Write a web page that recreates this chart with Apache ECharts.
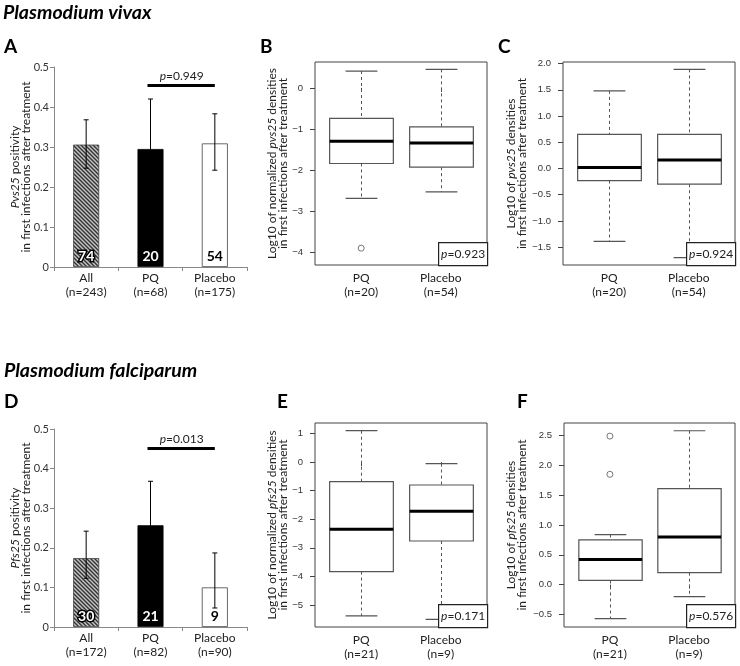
<!DOCTYPE html>
<html><head><meta charset="utf-8">
<script src="https://cdn.jsdelivr.net/npm/echarts@6/dist/echarts.min.js"></script>
<style>html,body{margin:0;padding:0;background:#fff}#c{width:740px;height:666px}</style>
</head><body><div id="c"></div>
<script>
// ---------------- data ----------------
const vivaxBarCategories = ['All\n(n=243)', 'PQ\n(n=68)', 'Placebo\n(n=175)'];
const vivaxPositivity = [0.306, 0.295, 0.309];
const vivaxErrLow = [0.247, 0.170, 0.242];
const vivaxErrHigh = [0.368, 0.420, 0.383];
const vivaxCounts = ['74', '20', '54'];
const vivaxBarP = '0.949';
const vivaxBarPLevel = 0.454;

const falcBarCategories = ['All\n(n=172)', 'PQ\n(n=82)', 'Placebo\n(n=90)'];
const falcPositivity = [0.174, 0.257, 0.100];
const falcErrLow = [0.123, 0.150, 0.048];
const falcErrHigh = [0.242, 0.368, 0.187];
const falcCounts = ['30', '21', '9'];
const falcBarP = '0.013';
const falcBarPLevel = 0.451;

const boxGroups = ['PQ', 'Placebo'];
const vivaxBoxN = ['(n=20)', '(n=54)'];
const falcBoxN = ['(n=21)', '(n=9)'];
// each box: [lower whisker, Q1, median, Q3, upper whisker]
const boxB = [[-2.69, -1.84, -1.30, -0.74, 0.41], [-2.53, -1.93, -1.34, -0.95, 0.45]];
const outliersB = [[1, -3.90]];
const pB = '0.923';
const boxC = [[-1.39, -0.23, 0.02, 0.65, 1.48], [-1.70, -0.30, 0.16, 0.65, 1.89]];
const outliersC = [];
const pC = '0.924';
const boxE = [[-5.38, -3.83, -2.35, -0.68, 1.10], [-5.50, -2.76, -1.72, -0.80, -0.05]];
const outliersE = [];
const pE = '0.171';
const boxF = [[-0.57, 0.07, 0.42, 0.75, 0.84], [-0.20, 0.20, 0.80, 1.61, 2.58]];
const outliersF = [[1, 1.85], [1, 2.49]];
const pF = '0.576';

const ticksB = [-4, -3, -2, -1, 0];
const ticksC = [-1.5, -1.0, -0.5, 0.0, 0.5, 1.0, 1.5, 2.0];
const ticksE = [-5, -4, -3, -2, -1, 0, 1];
const ticksF = [-0.5, 0.0, 0.5, 1.0, 1.5, 2.0, 2.5];
const rangeB = [-4.31, 0.63];
const rangeC = [-1.84, 2.03];
const rangeE = [-5.77, 1.37];
const rangeF = [-0.71, 2.71];

// ---------------- layout ----------------
const SANS = 'Lato, "Open Sans", sans-serif';
const RFONT = '"Liberation Sans", Arial, sans-serif';
const grids = [
  {left: 54, top: 67, width: 193, height: 200},   // A
  {left: 315, top: 62, width: 172, height: 203},  // B
  {left: 563, top: 62, width: 172, height: 203},  // C
  {left: 54, top: 429, width: 193, height: 198},  // D
  {left: 315, top: 423, width: 172, height: 204}, // E
  {left: 564, top: 423, width: 171, height: 204}  // F
];

function hatchPattern() {
  const c = document.createElement('canvas');
  c.width = 4; c.height = 4;
  const x = c.getContext('2d');
  x.fillStyle = '#c4c4c4'; x.fillRect(0, 0, 4, 4);
  x.strokeStyle = '#333'; x.lineWidth = 1.4;
  x.beginPath();
  x.moveTo(0, 0); x.lineTo(4, 4);
  x.moveTo(-2, 2); x.lineTo(2, 6);
  x.moveTo(2, -2); x.lineTo(6, 2);
  x.stroke();
  return c;
}
const hatch = {image: hatchPattern(), repeat: 'repeat'};

const NAMESIZE = 12;
const richItalic = (size) => ({i: {fontStyle: 'italic', fontFamily: SANS, fontSize: size, color: '#222', lineHeight: 11.5}});

function barXAxis(gi, cats) {
  return {
    type: 'category', gridIndex: gi, data: cats,
    axisLine: {show: true, lineStyle: {color: '#888', width: 1}},
    axisTick: {show: true, length: 4, lineStyle: {color: '#888'}},
    axisLabel: {margin: 4, fontFamily: SANS, fontSize: 12, lineHeight: 14, color: '#222'},
    splitLine: {show: false}
  };
}
function barYAxis(gi, name) {
  return {
    type: 'value', gridIndex: gi, min: 0, max: 0.5, interval: 0.1,
    axisLine: {show: true, lineStyle: {color: '#888', width: 1}},
    axisTick: {show: true, length: 4, lineStyle: {color: '#888'}},
    axisLabel: {margin: 5, fontFamily: SANS, fontSize: 11, color: '#333'},
    splitLine: {show: false},
    name: name, nameLocation: 'middle', nameRotate: 90, nameGap: 22, nameMoveOverlap: false,
    nameTextStyle: {fontFamily: SANS, fontSize: NAMESIZE, lineHeight: 11.5, color: '#222', rich: richItalic(NAMESIZE)}
  };
}
function boxXAxis(gi, nLabels) {
  return {
    type: 'value', gridIndex: gi, min: 0.42, max: 2.58,
    axisLine: {show: false},
    axisTick: {show: true, length: 4, customValues: [1, 2], lineStyle: {color: '#444'}},
    axisLabel: {customValues: [1, 2], margin: 6, fontFamily: SANS, fontSize: 12, lineHeight: 14, color: '#222',
      formatter: v => boxGroups[Math.round(v) - 1] + '\n' + nLabels[Math.round(v) - 1]},
    splitLine: {show: false}
  };
}
function boxYAxis(gi, range, ticks, name, gap, decimals) {
  return {
    type: 'value', gridIndex: gi, min: range[0], max: range[1],
    axisLine: {show: false},
    axisTick: {show: true, length: 5, customValues: ticks, lineStyle: {color: '#444'}},
    axisLabel: {customValues: ticks, margin: 12, fontFamily: RFONT, fontSize: 9.5, color: '#333',
      formatter: v => { const s = v.toFixed(decimals); return s.replace('-', '\u2212'); }},
    splitLine: {show: false},
    name: name, nameLocation: 'middle', nameRotate: 90, nameGap: gap, nameMoveOverlap: false,
    nameTextStyle: {fontFamily: SANS, fontSize: NAMESIZE, lineHeight: 11.5, color: '#222', rich: richItalic(NAMESIZE)}
  };
}

function barSeries(gi, vals, counts) {
  const styles = [
    {item: {color: hatch, borderColor: '#444', borderWidth: 0.8}, label: {color: '#fff', textBorderColor: '#000', textBorderWidth: 3}},
    {item: {color: '#000', borderColor: '#000', borderWidth: 0.8}, label: {color: '#fff'}},
    {item: {color: '#fff', borderColor: '#444', borderWidth: 0.8}, label: {color: '#000'}}
  ];
  return {
    type: 'bar', xAxisIndex: gi, yAxisIndex: gi, barWidth: 26, z: 2,
    data: vals.map((v, i) => ({
      value: v, itemStyle: styles[i].item,
      label: Object.assign({show: true, position: 'insideBottom', distance: 4, formatter: counts[i],
        fontFamily: SANS, fontWeight: 'bold', fontSize: 14}, styles[i].label)
    }))
  };
}
function errSeries(gi, lo, hi) {
  return {
    type: 'custom', xAxisIndex: gi, yAxisIndex: gi, z: 4,
    encode: {x: 0, y: [1, 2]},
    data: lo.map((l, i) => [i, l, hi[i]]),
    renderItem: (params, api) => {
      const i = api.value(0);
      const a = api.coord([i, api.value(1)]);
      const b = api.coord([i, api.value(2)]);
      const w = 2.5, st = {stroke: '#000', lineWidth: 1};
      return {type: 'group', children: [
        {type: 'line', shape: {x1: a[0], y1: a[1], x2: b[0], y2: b[1]}, style: st},
        {type: 'line', shape: {x1: b[0] - w, y1: b[1], x2: b[0] + w, y2: b[1]}, style: st},
        {type: 'line', shape: {x1: a[0] - w, y1: a[1], x2: a[0] + w, y2: a[1]}, style: st}
      ]};
    }
  };
}
function pLineSeries(gi, level, pText) {
  return {
    type: 'custom', xAxisIndex: gi, yAxisIndex: gi, z: 4,
    encode: {x: [0, 1], y: 2},
    data: [[1, 2, level]],
    renderItem: (params, api) => {
      const a = api.coord([api.value(0), api.value(2)]);
      const b = api.coord([api.value(1), api.value(2)]);
      return {type: 'group', children: [
        {type: 'line', shape: {x1: a[0] - 3, y1: a[1], x2: b[0], y2: b[1]}, style: {stroke: '#000', lineWidth: 3}},
        {type: 'text', x: (a[0] + b[0]) / 2 - 1, y: a[1] - 3,
          style: {text: '{i|p}=' + pText, fontFamily: SANS, fontSize: 12, fill: '#222', align: 'center', verticalAlign: 'bottom',
            rich: {i: {fontStyle: 'italic', fontFamily: SANS, fontSize: 12, fill: '#222'}}}}
      ]};
    }
  };
}
function boxSeries(gi, boxes) {
  return {
    type: 'custom', xAxisIndex: gi, yAxisIndex: gi, z: 3,
    encode: {x: 0, y: [1, 2, 3, 4, 5]},
    data: boxes.map((b, i) => [i + 1].concat(b)),
    renderItem: (params, api) => {
      const x = api.value(0);
      const lo = api.coord([x, api.value(1)]);
      const q1 = api.coord([x, api.value(2)]);
      const md = api.coord([x, api.value(3)]);
      const q3 = api.coord([x, api.value(4)]);
      const hi = api.coord([x, api.value(5)]);
      const bw = api.size([0.8, 0])[0];
      const cw = api.size([0.4, 0])[0];
      const cx = Math.round(lo[0]) + 0.5;
      const dash = {stroke: '#555', lineWidth: 1, lineDash: [3, 3]};
      const solid = {stroke: '#555', lineWidth: 1.2};
      return {type: 'group', children: [
        {type: 'line', shape: {x1: cx, y1: hi[1], x2: cx, y2: q3[1]}, style: dash},
        {type: 'line', shape: {x1: cx, y1: q1[1], x2: cx, y2: lo[1]}, style: dash},
        {type: 'line', shape: {x1: cx - cw / 2, y1: hi[1], x2: cx + cw / 2, y2: hi[1]}, style: solid},
        {type: 'line', shape: {x1: cx - cw / 2, y1: lo[1], x2: cx + cw / 2, y2: lo[1]}, style: solid},
        {type: 'rect', shape: {x: cx - bw / 2, y: q3[1], width: bw, height: q1[1] - q3[1]}, style: {fill: '#fff', stroke: '#555', lineWidth: 1.2}},
        {type: 'line', shape: {x1: cx - bw / 2, y1: md[1], x2: cx + bw / 2, y2: md[1]}, style: {stroke: '#000', lineWidth: 3}}
      ]};
    }
  };
}
function outlierSeries(gi, pts) {
  return {
    type: 'scatter', xAxisIndex: gi, yAxisIndex: gi, z: 4, symbol: 'circle', symbolSize: 6,
    itemStyle: {color: '#fff', borderColor: '#555', borderWidth: 1},
    data: pts
  };
}
function pBox(gi, pText) {
  const g = grids[gi];
  const w = 49, h = 23;
  return {
    type: 'group', z: 100, left: g.left + g.width - w, top: g.top + g.height - h,
    children: [
      {type: 'rect', shape: {x: 0, y: 0, width: w, height: h}, style: {fill: '#fff', stroke: '#222', lineWidth: 1.2}, z: 100},
      {type: 'text', x: w / 2, y: h / 2, z: 101,
        style: {text: '{i|p}=' + pText, fontFamily: SANS, fontSize: 12, fill: '#222', align: 'center', verticalAlign: 'middle',
          rich: {i: {fontStyle: 'italic', fontFamily: SANS, fontSize: 12, fill: '#222'}}}}
    ]
  };
}
function label(text, x, y, size, italic) {
  return {type: 'text', x: x, y: y, z: 100,
    style: {text: text, fontFamily: SANS, fontWeight: 'bold', fontStyle: italic ? 'italic' : 'normal', fontSize: size, fill: '#000',
      align: 'left', verticalAlign: 'middle'}};
}

const option = {
  animation: false,
  backgroundColor: '#fff',
  grid: grids.map((g, i) => Object.assign({show: i % 3 !== 0, borderColor: '#444', borderWidth: 1, backgroundColor: 'transparent'}, g)),
  xAxis: [
    barXAxis(0, vivaxBarCategories),
    boxXAxis(1, vivaxBoxN),
    boxXAxis(2, vivaxBoxN),
    barXAxis(3, falcBarCategories),
    boxXAxis(4, falcBoxN),
    boxXAxis(5, falcBoxN)
  ],
  yAxis: [
    barYAxis(0, '{i|Pvs25} positivity\nin first infections after treatment'),
    boxYAxis(1, rangeB, ticksB, 'Log10 of normalized {i|pvs25} densities\nin first infections after treatment', 26, 0),
    boxYAxis(2, rangeC, ticksC, 'Log10 of {i|pvs25} densities\nin first infections after treatment', 35, 1),
    barYAxis(3, '{i|Pfs25} positivity\nin first infections after treatment'),
    boxYAxis(4, rangeE, ticksE, 'Log10 of normalized {i|pfs25} densities\nin first infections after treatment', 26, 0),
    boxYAxis(5, rangeF, ticksF, 'Log10 of {i|pfs25} densities\nin first infections after treatment', 36, 1)
  ],
  series: [
    barSeries(0, vivaxPositivity, vivaxCounts),
    errSeries(0, vivaxErrLow, vivaxErrHigh),
    pLineSeries(0, vivaxBarPLevel, vivaxBarP),
    boxSeries(1, boxB), outlierSeries(1, outliersB),
    boxSeries(2, boxC), outlierSeries(2, outliersC),
    barSeries(3, falcPositivity, falcCounts),
    errSeries(3, falcErrLow, falcErrHigh),
    pLineSeries(3, falcBarPLevel, falcBarP),
    boxSeries(4, boxE), outlierSeries(4, outliersE),
    boxSeries(5, boxF), outlierSeries(5, outliersF)
  ],
  graphic: [
    label('Plasmodium vivax', 3, 13, 19.5, true),
    label('Plasmodium falciparum', 4, 371, 19.5, true),
    label('A', 4, 47, 19),
    label('B', 260, 47, 19),
    label('C', 498, 47, 19),
    label('D', 4, 402, 19),
    label('E', 277, 402, 19),
    label('F', 517, 402, 19),
    pBox(1, pB), pBox(2, pC), pBox(4, pE), pBox(5, pF)
  ]
};
const chart = echarts.init(document.getElementById('c'), null, {renderer: 'canvas'});
chart.setOption(option);
</script></body></html>
